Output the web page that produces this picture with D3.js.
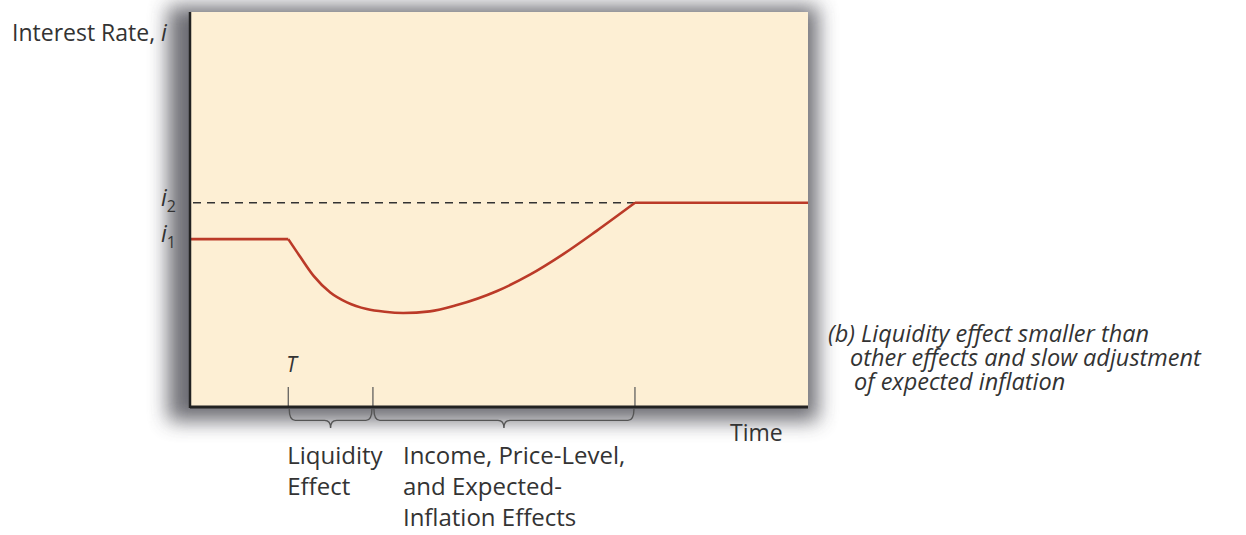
<!DOCTYPE html>
<html lang="en">
<head>
<meta charset="UTF-8">
<title>Interest rate path</title>
<script src="https://d3js.org/d3.v7.min.js"></script>
<style>
  body { margin: 0; background: #fff; }
  svg text { font-family: "Open Sans", "Noto Sans", sans-serif; fill: #333; }
  .it { font-style: italic; }
</style>
</head>
<body>
<div id="chart"></div>
<script>
// rate path (time 0..100, rate 0..10)
const pathBefore = [[0, 4.25], [15.9, 4.25]];
const pathCurve = [[15.9, 4.25], [17.8, 3.81], [20.0, 3.32], [22.7, 2.90], [25.4, 2.65], [28.6, 2.48],
                   [31.5, 2.41], [34.5, 2.38], [38.8, 2.42], [43.2, 2.58], [49.6, 2.93], [55.0, 3.35],
                   [60.4, 3.87], [65.8, 4.46], [72.0, 5.17]];
const pathAfter = [[72.0, 5.17], [100, 5.17]];
const rateLevels = [{ name: "2", value: 5.17 }, { name: "1", value: 4.25 }];
const timeMarks = [15.9, 29.6, 72.0];
const effects = [
  { from: 15.9, to: 29.6, lines: ["Liquidity", "Effect"] },
  { from: 29.6, to: 72.0, lines: ["Income, Price-Level,", "and Expected-", "Inflation Effects"] }
];
const caption = ["(b) Liquidity effect smaller than", "other effects and slow adjustment", "of expected inflation"];

const W = 1246, H = 535;
const x = d3.scaleLinear().domain([0, 100]).range([190, 808]);
const y = d3.scaleLinear().domain([0, 10]).range([407, 12]);

const svg = d3.select("#chart").append("svg").attr("width", W).attr("height", H);

const defs = svg.append("defs");
defs.append("filter").attr("id", "shadow").attr("x", "-20%").attr("y", "-20%").attr("width", "140%").attr("height", "140%")
  .append("feGaussianBlur").attr("stdDeviation", 10);

// shadow + panel
svg.append("rect")
  .attr("x", x(0) - 22).attr("y", y(10) - 6)
  .attr("width", x(100) - x(0) + 32).attr("height", y(0) - y(10) + 20)
  .attr("fill", "#5f5f66").attr("opacity", 0.9)
  .attr("filter", "url(#shadow)");
svg.append("rect")
  .attr("x", x(0)).attr("y", y(10))
  .attr("width", x(100) - x(0)).attr("height", y(0) - y(10))
  .attr("fill", "#fdefd4");

// dashed i2 level
svg.append("line")
  .attr("x1", x(0) + 3).attr("x2", x(72.0))
  .attr("y1", y(rateLevels[0].value)).attr("y2", y(rateLevels[0].value))
  .attr("stroke", "#333").attr("stroke-width", 1.6).attr("stroke-dasharray", "8,6");

// rate path
const lin = d3.line().x(d => x(d[0])).y(d => y(d[1]));
const smooth = d3.line().x(d => x(d[0])).y(d => y(d[1])).curve(d3.curveMonotoneX);
[[pathBefore, lin], [pathCurve, smooth], [pathAfter, lin]].forEach(([data, gen]) => {
  svg.append("path").attr("d", gen(data))
    .attr("fill", "none").attr("stroke", "#bb3a28").attr("stroke-width", 2.6)
    .attr("stroke-linejoin", "round");
});

// ticks at the time marks
svg.selectAll(".tmark").data(timeMarks).join("line")
  .attr("x1", d => x(d)).attr("x2", d => x(d))
  .attr("y1", y(0) - 20).attr("y2", y(0))
  .attr("stroke", "#555").attr("stroke-width", 1.2);

// axes
svg.append("line").attr("x1", x(0)).attr("x2", x(0)).attr("y1", y(10)).attr("y2", y(0) + 1)
  .attr("stroke", "#222").attr("stroke-width", 2.5);
svg.append("line").attr("x1", x(0)).attr("x2", x(100)).attr("y1", y(0)).attr("y2", y(0))
  .attr("stroke", "#222").attr("stroke-width", 3);

// labels
svg.append("text").attr("x", 12).attr("y", 41).attr("font-size", 23)
  .text("Interest Rate, ").append("tspan").attr("class", "it").text("i");

rateLevels.forEach(l => {
  const t = svg.append("text").attr("x", 176).attr("y", y(l.value) + 3)
    .attr("text-anchor", "end").attr("font-size", 23);
  t.append("tspan").attr("class", "it").text("i");
  t.append("tspan").attr("font-size", 16).attr("dy", 6).text(l.name);
});

svg.append("text").attr("class", "it").attr("x", x(timeMarks[0]) - 2).attr("y", 372)
  .attr("font-size", 21).text("T");

svg.append("text").attr("x", 730).attr("y", 441).attr("font-size", 23).text("Time");

// braces under the axis
function brace(x1, x2, top, depth) {
  const m = (x1 + x2) / 2, r = 6, mid = top + depth * 0.6;
  return `M${x1},${top} Q${x1},${mid} ${x1 + r},${mid} L${m - r},${mid} Q${m},${mid} ${m},${top + depth}` +
         ` Q${m},${mid} ${m + r},${mid} L${x2 - r},${mid} Q${x2},${mid} ${x2},${top}`;
}
effects.forEach((e, i) => {
  svg.append("path").attr("d", brace(x(e.from) + 1, x(e.to) - 1, 409, 19))
    .attr("fill", "none").attr("stroke", "#555").attr("stroke-width", 1.4);
  const tx = i === 0 ? x(e.from) - 1 : x(e.from) + 30;
  const t = svg.append("text").attr("x", tx).attr("y", 464).attr("font-size", 24);
  e.lines.forEach((s, k) => t.append("tspan").attr("x", tx).attr("dy", k === 0 ? 0 : 31).text(s));
});

// caption
const capX = [828, 850, 854];
const cap = svg.append("text").attr("class", "it").attr("y", 342).attr("font-size", 23.5);
caption.forEach((s, k) => cap.append("tspan").attr("x", capX[k]).attr("dy", k === 0 ? 0 : 24).text(s));
</script>
</body>
</html>
